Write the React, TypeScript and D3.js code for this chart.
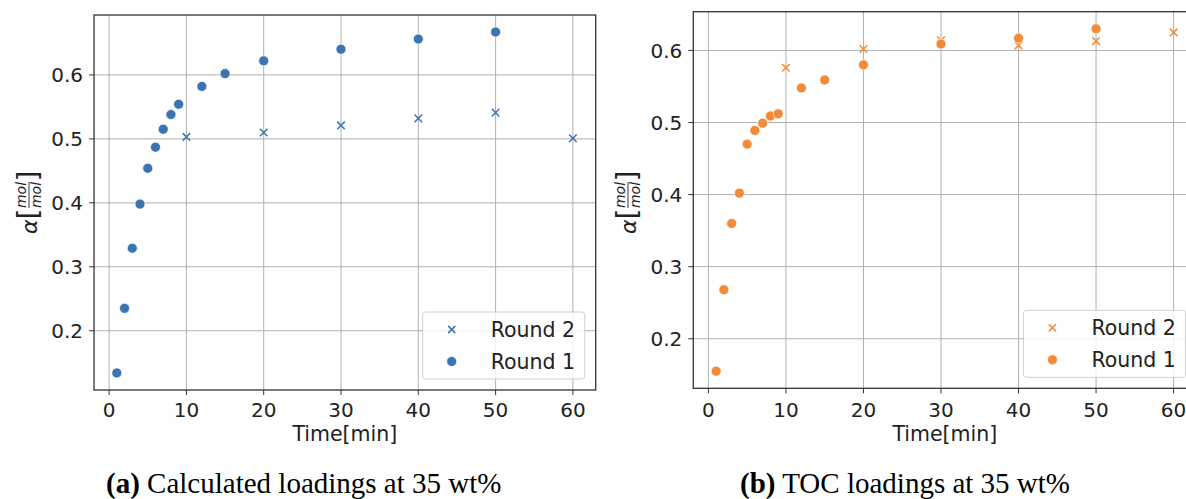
import React from "react";
import * as d3 from "d3";

const time1 = [1, 2, 3, 4, 5, 6, 7, 8, 9, 12, 15, 20, 30, 40, 50];
const time2 = [10, 20, 30, 40, 50, 60];
const calcRound1 = [0.134, 0.235, 0.329, 0.398, 0.454, 0.487, 0.515, 0.538, 0.554, 0.582, 0.602, 0.622, 0.640, 0.656, 0.667];
const calcRound2 = [0.503, 0.510, 0.521, 0.532, 0.541, 0.501];
const tocRound1 = [0.155, 0.268, 0.360, 0.402, 0.470, 0.489, 0.499, 0.509, 0.512, 0.548, 0.559, 0.580, 0.609, 0.617, 0.630];
const tocRound2 = [0.576, 0.602, 0.614, 0.607, 0.613, 0.625];
const xTicks = [0, 10, 20, 30, 40, 50, 60];
const yTicks = [0.2, 0.3, 0.4, 0.5, 0.6];
const legendLabels = ["Round 2", "Round 1"];

const SANS = "'DejaVu Sans', sans-serif";
const SERIF = "'Liberation Serif', 'Times New Roman', serif";

function padDomain(vals: number[]): [number, number] {
  const mn = d3.min(vals) as number;
  const mx = d3.max(vals) as number;
  const p = (mx - mn) * 0.05;
  return [mn - p, mx + p];
}

function XMark({ x, y, color, h = 3.8 }: { x: number; y: number; color: string; h?: number }) {
  return (
    <path
      d={`M${x - h},${y - h}L${x + h},${y + h}M${x - h},${y + h}L${x + h},${y - h}`}
      stroke={color}
      strokeWidth={1.5}
      fill="none"
    />
  );
}

function YLabel({ cx, cy }: { cx: number; cy: number }) {
  return (
    <g transform={`translate(${cx},${cy}) rotate(-90)`} fill="#222" fontFamily={SANS}>
      <text x={-32} y={7.5} fontSize={22} fontStyle="italic">α</text>
      <text x={-17.5} y={8.5} fontSize={28}>[</text>
      <text x={7} y={-3} fontSize={14} fontStyle="italic" textAnchor="middle">mol</text>
      <line x1={-6} x2={20} y1={0} y2={0} stroke="#222" strokeWidth={0.9} />
      <text x={7} y={12} fontSize={14} fontStyle="italic" textAnchor="middle">mol</text>
      <text x={20.5} y={8.5} fontSize={28}>]</text>
    </g>
  );
}

type PanelProps = {
  top: number;
  bottom: number;
  zeroX: number;
  pxPerUnit: number;
  r1: number[];
  r2: number[];
  color: string;
  ylabelX: number;
  bold: string;
  caption: string;
  captionX: number;
};

function Panel(p: PanelProps) {
  const xDom = padDomain([...time1, ...time2]);
  const yDom = padDomain([...p.r1, ...p.r2]);
  const axLeft = p.zeroX + xDom[0] * p.pxPerUnit;
  const axRight = p.zeroX + xDom[1] * p.pxPerUnit;
  const x = d3.scaleLinear().domain(xDom).range([axLeft, axRight]);
  const y = d3.scaleLinear().domain(yDom).range([p.bottom, p.top]);
  const gridC = "#b0b0b0";
  const spineC = "#333";
  const lgW = 162;
  const lgH = 67;
  const lgRight = axRight - 11;
  const lgBottom = p.bottom - 11;
  const lgLeft = lgRight - lgW;
  const lgTop = lgBottom - lgH;
  return (
    <g>
      {xTicks.map((t) => (
        <line key={"gx" + t} x1={x(t)} x2={x(t)} y1={p.top} y2={p.bottom} stroke={gridC} strokeWidth={1} />
      ))}
      {yTicks.map((t) => (
        <line key={"gy" + t} x1={axLeft} x2={axRight} y1={y(t)} y2={y(t)} stroke={gridC} strokeWidth={1} />
      ))}
      {time2.map((t, i) => (
        <XMark key={"r2" + i} x={x(t)} y={y(p.r2[i])} color={p.color} />
      ))}
      {time1.map((t, i) => (
        <circle key={"r1" + i} cx={x(t)} cy={y(p.r1[i])} r={5} fill={p.color} stroke="#fff" strokeWidth={0.7} />
      ))}
      <rect x={axLeft} y={p.top} width={axRight - axLeft} height={p.bottom - p.top} fill="none" stroke={spineC} strokeWidth={1.3} />
      {xTicks.map((t) => (
        <g key={"tx" + t}>
          <line x1={x(t)} x2={x(t)} y1={p.bottom} y2={p.bottom + 5} stroke={spineC} strokeWidth={1} />
          <text x={x(t)} y={416.5} fontSize={20} fontFamily={SANS} textAnchor="middle" fill="#222">{t}</text>
        </g>
      ))}
      {yTicks.map((t) => (
        <g key={"ty" + t}>
          <line x1={axLeft - 5} x2={axLeft} y1={y(t)} y2={y(t)} stroke={spineC} strokeWidth={1} />
          <text x={axLeft - 11} y={y(t)} dy="0.36em" fontSize={20} fontFamily={SANS} textAnchor="end" fill="#222">{d3.format(".1f")(t)}</text>
        </g>
      ))}
      <text x={(axLeft + axRight) / 2} y={441} fontSize={20.5} fontFamily={SANS} textAnchor="middle" fill="#222">Time[min]</text>
      <YLabel cx={p.ylabelX} cy={202} />
      <rect x={lgLeft} y={lgTop} width={lgW} height={lgH} rx={3} fill="#fff" fillOpacity={0.8} stroke="#d0d0d0" strokeWidth={1} />
      <XMark x={lgLeft + 29} y={lgTop + 17.5} color={p.color} h={3.6} />
      <circle cx={lgLeft + 29} cy={lgTop + 49.5} r={5} fill={p.color} stroke="#fff" strokeWidth={0.7} />
      {legendLabels.map((l, i) => (
        <text key={l} x={lgLeft + 68} y={lgTop + 17.5 + i * 32} dy="0.36em" fontSize={20.5} fontFamily={SANS} fill="#222">{l}</text>
      ))}
      <text x={p.captionX} y={493} fontSize={29} fontFamily={SERIF} fill="#000">
        <tspan fontWeight="bold">{p.bold}</tspan>
        <tspan>{" " + p.caption}</tspan>
      </text>
    </g>
  );
}

export default function App() {
  return (
    <svg width={1186} height={499} style={{ position: "absolute", left: 0, top: 0, background: "#fff" }}>
      <rect x={0} y={0} width={1186} height={499} fill="#fff" />
      <Panel
        top={15}
        bottom={390}
        zeroX={109.1}
        pxPerUnit={7.73}
        r1={calcRound1}
        r2={calcRound2}
        color="#3a75b0"
        ylabelX={29}
        bold="(a)"
        caption="Calculated loadings at 35 wt%"
        captionX={106}
      />
      <Panel
        top={11.7}
        bottom={388.3}
        zeroX={708.4}
        pxPerUnit={7.753}
        r1={tocRound1}
        r2={tocRound2}
        color="#f28a38"
        ylabelX={628}
        bold="(b)"
        caption="TOC loadings at 35 wt%"
        captionX={740}
      />
    </svg>
  );
}
